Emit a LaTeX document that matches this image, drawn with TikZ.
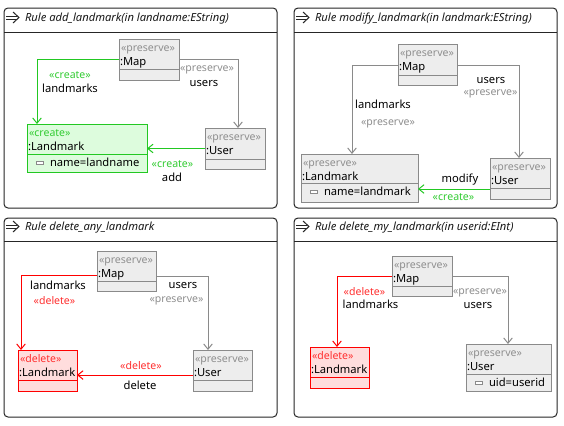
\documentclass[tikz,border=0pt]{standalone}
\usepackage{fontspec}
\setmainfont{Noto Sans}
\usetikzlibrary{arrows.meta}
\definecolor{bgray}{HTML}{8A8A8A}
\definecolor{bfill}{HTML}{EDEDED}
\definecolor{stgray}{HTML}{8F8F8F}
\definecolor{cgreen}{HTML}{22C822}
\definecolor{cfill}{HTML}{DDFCDD}
\definecolor{ctext}{HTML}{33CC33}
\definecolor{dred}{HTML}{FF0000}
\definecolor{dfill}{HTML}{FFDDDD}
\definecolor{dtext}{HTML}{FF3030}
\tikzset{
  every node/.style={font=\fontsize{8.4}{10}\selectfont, inner sep=0pt, outer sep=0pt},
  panel/.style={draw=black!85, fill=white, line width=0.75pt, rounded corners=3pt},
  boxpres/.style={draw=bgray, fill=bfill, line width=0.75pt},
  boxcrea/.style={draw=cgreen, fill=cfill, line width=0.75pt},
  boxdele/.style={draw=dred, fill=dfill, line width=0.75pt},
  linepres/.style={draw=bgray, line width=0.75pt},
  linecrea/.style={draw=cgreen, line width=0.75pt},
  linedele/.style={draw=dred, line width=0.75pt},
  txtpres/.style={text=stgray, font=\fontsize{7.9}{10}\selectfont},
  txtcrea/.style={text=ctext, font=\fontsize{7.9}{10}\selectfont},
  txtdele/.style={text=dtext, font=\fontsize{7.9}{10}\selectfont},
  conn/.style={line width=0.75pt, -{Straight Barb[length=4pt,width=6.5pt,line width=0.75pt]}},
  connpres/.style={conn, draw=bgray},
  conncrea/.style={conn, draw=cgreen},
  conndele/.style={conn, draw=dred},
  lbl/.style={anchor=base, text=black},
}
% #1 name, #2 x1, #3 y1, #4 x2, #5 y2, #6 separator y, #7 kind, #8 stereotype, #9 label
\newcommand\umlcls[9]{%
  \node[box#7, anchor=north west, minimum width={(#4-#2)*0.75pt}, minimum height={(#5-#3)*0.75pt}] (#1) at (#2,#3) {};
  \draw[line#7] (#2,#6) -- (#4,#6);
  \node[anchor=base west, txt#7] at (#2+2,#3+12.5) {«#8»};
  \node[anchor=base west, text=black] at (#2+1,#3+26.5) {#9};
}
% attribute: #1 x1, #2 sep y, #3 kind, #4 text
\newcommand\umlattr[4]{%
  \draw[draw=bgray, fill=white, line width=0.6pt] (#1+9,#2+7) rectangle (#1+16,#2+10.5);
  \node[anchor=base west, text=black] at (#1+23,#2+12.5) {#4};
}
% title: #1 x panel left, #2 y top, #3 text
\newcommand\ruletitle[3]{%
  \draw[line width=0.75pt, black!85] (#1+2,#2+8) -- (#1+13,#2+8);
  \draw[line width=0.75pt, black!85] (#1+2,#2+11) -- (#1+13,#2+11);
  \draw[line width=0.75pt, black!85, line join=miter] (#1+9,#2+4) -- (#1+15,#2+9.5) -- (#1+9,#2+15);
  \node[anchor=base west, text=black!90, font=\fontsize{8.4}{10}\selectfont\itshape] at (#1+21,#2+13.5) {#3};
}
\begin{document}
\begin{tikzpicture}[x=0.75pt,y=-0.75pt]
\useasboundingbox (0,0) rectangle (564,425);
\fill[white] (0,0) rectangle (564,425);
% ---------- panels ----------
\path[panel] (4,8) rectangle (277,208);
\draw[black!85, line width=0.75pt] (4,32) -- (277,32);
\ruletitle{4}{8}{Rule add\_landmark(in landname:EString)}
\path[panel] (294,8) rectangle (557,208);
\draw[black!85, line width=0.75pt] (294,32) -- (557,32);
\ruletitle{294}{8}{Rule modify\_landmark(in landmark:EString)}
\path[panel] (4,218) rectangle (277,417);
\draw[black!85, line width=0.75pt] (4,241) -- (277,241);
\ruletitle{4}{217}{Rule delete\_any\_landmark}
\path[panel] (294,218) rectangle (557,417);
\draw[black!85, line width=0.75pt] (294,241) -- (557,241);
\ruletitle{294}{217}{Rule delete\_my\_landmark(in userid:EInt)}

% ---------- panel 1 ----------
\umlcls{mapA}{119}{39}{179}{80}{69}{pres}{preserve}{:Map}
\umlcls{lmA}{27}{124}{147}{172}{154}{crea}{create}{:Landmark}
\umlattr{27}{154}{crea}{name=landname}
\umlcls{usA}{205}{128}{265}{169}{159}{pres}{preserve}{:User}
\draw[conncrea] (mapA.west) -| ([xshift=7.5pt]lmA.north west);
\draw[connpres] (mapA.east) -| ([xshift=24.75pt]usA.north west);
\draw[conncrea] (usA.west) -- (usA.west -| lmA.east);
\node[lbl, txtcrea] at (70,78) {«create»};
\node[lbl] at (70,92.5) {landmarks};
\node[lbl, txtpres] at (207,71.5) {«preserve»};
\node[lbl] at (204,86.5) {users};
\node[lbl, txtcrea] at (172.5,167.5) {«create»};
\node[lbl] at (172,181) {add};

% ---------- panel 2 ----------
\umlcls{mapB}{398}{44}{457}{85}{75}{pres}{preserve}{:Map}
\umlcls{lmB}{301}{154}{418}{202}{183}{pres}{preserve}{:Landmark}
\umlattr{301}{183}{pres}{name=landmark}
\umlcls{usB}{490}{158}{550}{199}{188}{pres}{preserve}{:User}
\coordinate (mB) at ([yshift=-1.1pt]mapB.west);
\coordinate (mBe) at ([yshift=-1.1pt]mapB.east);
\draw[connpres] (mB) -| ([xshift=38.25pt]lmB.north west);
\draw[connpres] (mBe) -| ([xshift=21.75pt]usB.north west);
\coordinate (uB) at ([yshift=7.5pt]usB.south west);
\draw[conncrea] (uB) -- (uB -| lmB.east);
\node[lbl] at (383,108.5) {landmarks};
\node[lbl, txtpres] at (388,125.5) {«preserve»};
\node[lbl] at (491,83) {users};
\node[lbl, txtpres] at (490.5,95.5) {«preserve»};
\node[lbl] at (460,182.5) {modify};
\node[lbl, txtcrea] at (453.5,200) {«create»};

% ---------- panel 3 ----------
\umlcls{mapC}{97}{251}{156}{291}{281}{pres}{preserve}{:Map}
\umlcls{lmC}{18}{350}{77}{391}{380}{dele}{delete}{:Landmark}
\umlcls{usC}{193}{350}{252}{391}{380}{pres}{preserve}{:User}
\coordinate (mC) at ([yshift=-3pt]mapC.west);
\coordinate (mCe) at ([yshift=-3.75pt]mapC.east);
\draw[conndele] (mC) -| ([xshift=2.25pt]lmC.north west);
\draw[connpres] (mCe) -| ([xshift=11.25pt]usC.north west);
\coordinate (uC) at ([yshift=-3.4pt]usC.west);
\draw[conndele] (uC) -- (uC -| lmC.east);
\node[lbl] at (58,289) {landmarks};
\node[lbl, txtdele] at (54.5,304) {«delete»};
\node[lbl] at (183,288) {users};
\node[lbl, txtpres] at (176.5,302) {«preserve»};
\node[lbl, txtdele] at (141,369) {«delete»};
\node[lbl] at (140,389) {delete};

% ---------- panel 4 ----------
\umlcls{mapD}{392}{256}{452}{296}{286}{pres}{preserve}{:Map}
\umlcls{lmD}{310}{347}{369}{388}{377}{dele}{delete}{:Landmark}
\umlcls{usD}{466}{344}{551}{391}{374}{pres}{preserve}{:User}
\umlattr{466}{374}{pres}{uid=userid}
\draw[conndele] (mapD.west) -| ([xshift=20.25pt]lmD.north west);
\draw[connpres] (mapD.east) -| ([xshift=31.5pt]usD.north west);
\node[lbl, txtdele] at (364.5,295) {«delete»};
\node[lbl] at (370.5,308) {landmarks};
\node[lbl, txtpres] at (480,294.5) {«preserve»};
\node[lbl] at (478,308) {users};
\end{tikzpicture}
\end{document}
